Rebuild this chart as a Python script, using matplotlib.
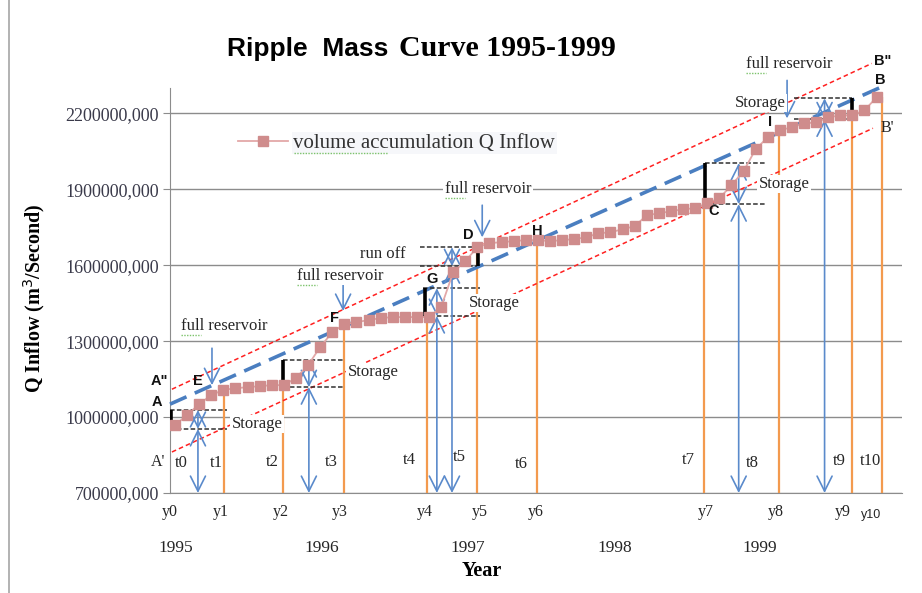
import matplotlib
matplotlib.use("Agg")
import matplotlib.pyplot as plt
from matplotlib.lines import Line2D
import numpy as np

W, H = 922, 593

# ---------------- data (volumes in the axis units, x in months from Jan 1995) ----------------
inflow = [968, 1008, 1051, 1087, 1107, 1114, 1118, 1122, 1126, 1126,
          1154, 1205, 1276, 1335, 1367, 1375, 1383, 1391, 1395, 1395,
          1395, 1395, 1434, 1572, 1616, 1671, 1687, 1691, 1695, 1699,
          1699, 1695, 1699, 1703, 1710, 1726, 1730, 1742, 1754, 1797,
          1805, 1813, 1821, 1825, 1845, 1864, 1916, 1971, 2058, 2105,
          2133, 2145, 2160, 2164, 2184, 2192, 2192, 2212, 2263]
months = np.arange(len(inflow))

y_ticks = [700, 1000, 1300, 1600, 1900, 2200]
y_tick_labels = ["700000,000", "1000000,000", "1300000,000",
                 "1600000,000", "1900000,000", "2200000,000"]

# demand lines A-B, A''-B'', A'-B'
line_AB_x, line_AB_v = [-0.41, 58.3], [1051, 2302]
line_top_x, line_top_v = [-0.25, 57.6], [1110, 2397]
line_bot_x, line_bot_v = [-0.25, 57.7], [862, 2141]

# t points (orange verticals)
t_pos = [4.05, 8.93, 13.97, 20.83, 24.96, 29.92, 43.72, 49.92, 55.95, 58.43]
t_top = [1107, 1126, 1367, 1395, 1675, 1699, 1845, 2133, 2192, 2263]

# storage markers
storage_x = [1.9, 11.07, 21.65, 22.9, 46.6, 53.7]
storage_low = [953, 1118, 1399, 1596, 1841, 2176]
storage_high = [1028, 1225, 1509, 1671, 2003, 2259]
dash_x0 = [-0.41, 8.93, 20.5, 20.25, 43.8, 51.2]
dash_x1 = [4.3, 13.9, 25.2, 24.96, 48.8, 55.95]
bar_x = [-0.30, 8.93, 20.66, 25.04, 43.8, 55.95]

# full reservoir arrows
fr_x = [3.06, 13.9, 25.4, 50.6]
fr_from = [1272, 1521, 1837, 2330]
fr_to = [1126, 1419, 1710, 2180]

# ---------------- figure ----------------
fig = plt.figure(figsize=(W / 100, H / 100), dpi=100)
AX_L, AX_R, AX_T, AX_B = 170, 902, 88, 493
ax = fig.add_axes([AX_L / W, 1 - AX_B / H, (AX_R - AX_L) / W, (AX_B - AX_T) / H])
ax.set_xlim(-0.41, 60.1)
ax.set_ylim(700, 2300)

SERIF = "Liberation Serif"
SANS = "Liberation Sans"
TXT = "#262626"
BLUE = "#5A8ACB"
ORANGE = "#F39A4E"

for s in ["top", "right"]:
    ax.spines[s].set_visible(False)
ax.spines["left"].set_color("#8c8c8c")
ax.spines["bottom"].set_color("#8c8c8c")
ax.set_yticks(y_ticks)
ax.set_yticklabels(y_tick_labels, fontfamily=SERIF, fontsize=13, color="#3a3a4a")
ax.tick_params(axis="y", length=5, color="#8c8c8c", pad=3)
ax.set_xticks([])
ax.grid(axis="y", color="#8c8c8c", lw=1)
ax.set_axisbelow(True)

# orange verticals
ax.vlines(t_pos, 700, t_top, color=ORANGE, lw=1.6, zorder=2)

# demand lines
ax.plot(line_top_x, line_top_v, color="#FF2020", lw=1.1, ls=(0, (3, 2)), clip_on=False, zorder=3)
ax.plot(line_bot_x, line_bot_v, color="#FF2020", lw=1.1, ls=(0, (3, 2)), clip_on=False, zorder=3)
ax.plot(line_AB_x, line_AB_v, color="#4A7EC0", lw=2.6, ls=(0, (5, 2.5)), clip_on=False, zorder=4)

# storage dashed lines, black bars, blue arrows
for x0, x1, lo, hi, bx, sx in zip(dash_x0, dash_x1, storage_low, storage_high, bar_x, storage_x):
    ax.hlines([lo, hi], x0, x1, color="#303030", lw=1.1, ls=(0, (3, 1.5)), zorder=5)
    ax.vlines(bx, lo, hi, color="black", lw=2.6, zorder=6)
    arr = dict(arrowstyle="<->,head_length=0.9,head_width=0.45", color=BLUE, lw=1.2,
               shrinkA=0, shrinkB=0, mutation_scale=12)
    ax.annotate("", xy=(sx, lo), xytext=(sx, 700), arrowprops=arr, zorder=6, annotation_clip=False)
    ax.annotate("", xy=(sx, hi), xytext=(sx, lo), arrowprops=arr, zorder=6, annotation_clip=False)

for fx, f0, f1 in zip(fr_x, fr_from, fr_to):
    ax.annotate("", xy=(fx, f1), xytext=(fx, f0),
                arrowprops=dict(arrowstyle="->,head_length=0.9,head_width=0.45", color=BLUE, lw=1.2,
                                shrinkA=0, shrinkB=0, mutation_scale=12),
                zorder=6, annotation_clip=False)

# series
ax.plot(months, inflow, color="#E3A8A8", lw=1.3, marker="s", markersize=7,
        markerfacecolor="#CF8C8C", markeredgecolor="#CF8C8C", zorder=7,
        label="volume accumulation Q Inflow")

leg = ax.legend(loc="center left",
                bbox_to_anchor=((238 - AX_L) / (AX_R - AX_L), 1 - (143 - AX_T) / (AX_B - AX_T)),
                frameon=False, borderaxespad=0, borderpad=0,
                handlelength=2.4, handletextpad=0.25, prop=dict(family=SERIF, size=15))
for t in leg.get_texts():
    t.set_color("#333333")
    t.set_bbox(dict(facecolor="#F6F7FA", edgecolor="none", pad=1))


def ftext(x, y, s, **kw):
    kw.setdefault("ha", "center")
    kw.setdefault("va", "center")
    kw.setdefault("color", TXT)
    fig.text(x / W, 1 - y / H, s, **kw)


def fline(x0, x1, y, **kw):
    fig.add_artist(Line2D([x0 / W, x1 / W], [1 - y / H, 1 - y / H], zorder=10, **kw))


WB = dict(facecolor="white", edgecolor="none", pad=1.0)

# title (mixed fonts)
ftext(308, 49, "Ripple  Mass", fontfamily=SANS, fontweight="bold", fontsize=19, color="black")
ftext(507, 49, "Curve 1995-1999", fontfamily=SERIF, fontweight="bold", fontsize=21.5, color="black")

# axis labels
ftext(34, 298, "Q Inflow (m$^3$/Second)", fontfamily=SERIF, fontweight="bold", fontsize=14.5, rotation=90,
      color="black")
ftext(482, 571, "Year", fontfamily=SERIF, fontweight="bold", fontsize=14.5, color="black")

# year labels
for xx, yr in zip([176, 322, 468, 615, 760], ["1995", "1996", "1997", "1998", "1999"]):
    ftext(xx, 548, yr, fontfamily=SERIF, fontsize=12.5)

# y labels along the axis
for xx, lab in zip([170, 221, 281, 340, 425, 480, 536, 706, 776, 843],
                   ["y0", "y1", "y2", "y3", "y4", "y5", "y6", "y7", "y8", "y9"]):
    ftext(xx, 512, lab, fontfamily=SERIF, fontsize=11.5)
ftext(871, 515, "y10", fontfamily=SANS, fontsize=9)

# t labels
for xx, yy, lab in zip([181, 216, 272, 331, 409, 459, 521, 688, 752, 839, 870],
                       [463, 463, 462, 462, 460, 457, 464, 460, 463, 461, 461],
                       ["t0", "t1", "t2", "t3", "t4", "t5", "t6", "t7", "t8", "t9", "t10"]):
    ftext(xx, yy, lab, fontfamily=SERIF, fontsize=12)

# full reservoir / storage / run off labels
GREEN = dict(color="#7CC36B", lw=1.0, ls=(0, (1, 1)))
for xx, yy in [(224, 326), (340, 276), (488, 189), (789, 64)]:
    ftext(xx, yy, "full reservoir", fontfamily=SERIF, fontsize=12, bbox=WB)
    fline(xx - 43, xx - 23, yy + 9, **GREEN)
for xx, yy in [(257, 424), (373, 372), (494, 303), (784, 184), (760, 103)]:
    ftext(xx, yy, "Storage", fontfamily=SERIF, fontsize=12, bbox=WB)
ftext(383, 254, "run off", fontfamily=SERIF, fontsize=12)
fline(294, 388, 153, **GREEN)

# point letters
for xx, yy, lab in [(157, 402, "A"), (159, 381, "A\""), (198, 381, "E"), (334, 318, "F"),
                    (432, 279, "G"), (468, 235, "D"), (537, 231, "H"), (714, 211, "C"),
                    (770, 122, "I"), (883, 61, "B\""), (880, 80, "B")]:
    ftext(xx, yy, lab, fontfamily=SANS, fontweight="bold", fontsize=10.5, color="#111111")
ftext(158, 462, "A'", fontfamily=SERIF, fontsize=11.5)
ftext(887, 128, "B'", fontfamily=SERIF, fontsize=11.5)

# outer border line at left
fig.add_artist(Line2D([9 / W, 9 / W], [0, 1], color="#a6a6a6", lw=1.2))

fig.savefig("out.png", dpi=100)
